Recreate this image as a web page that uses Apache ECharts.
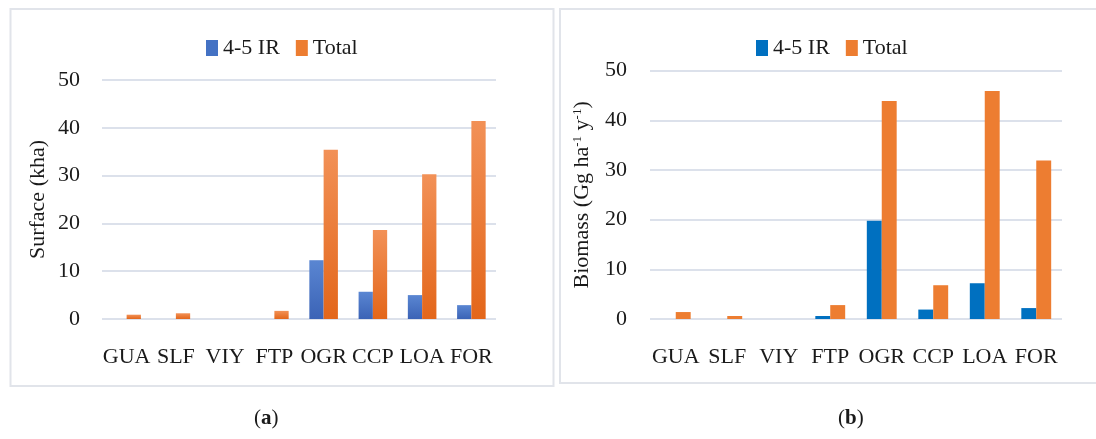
<!DOCTYPE html>
<html>
<head>
<meta charset="utf-8">
<script src="https://cdn.jsdelivr.net/npm/echarts@6/dist/echarts.min.js"></script>
<style>
  html, body { margin: 0; padding: 0; background: #ffffff; }
  #chart { width: 1096px; height: 439px; }
</style>
</head>
<body>
<div id="chart"></div>
<script>
// Land-use classes on the horizontal axis of both panels
const categories = ['GUA', 'SLF', 'VIY', 'FTP', 'OGR', 'CCP', 'LOA', 'FOR'];
const seriesNames = ['4-5 IR', 'Total'];

// Panel (a): surface, kha
const surfaceIR = [0, 0, 0, 0, 12.3, 5.7, 5.0, 2.9];
const surfaceTotal = [0.9, 1.2, 0, 1.7, 35.4, 18.6, 30.3, 41.4];

// Panel (b): biomass, Gg ha-1 y-1
const biomassIR = [0, 0, 0, 0.6, 19.8, 1.9, 7.2, 2.2];
const biomassTotal = [1.4, 0.6, 0, 2.8, 43.9, 6.8, 45.9, 31.9];

// Shared value-axis range
const yMin = 0, yMax = 50, yStep = 10;

const FONT = '"Liberation Serif", "DejaVu Serif", serif';
const INK = '#1a1a1a';
const GRID_LINE = '#DCE1EB';

function vgrad(top, bottom) {
  return { type: 'linear', x: 0, y: 0, x2: 0, y2: 1,
    colorStops: [{ offset: 0, color: top }, { offset: 1, color: bottom }] };
}

const leftBlue = vgrad('#5A86D2', '#3B63B6');
const leftOrange = vgrad('#F29157', '#E3661A');
const rightBlue = '#0070C0';
const rightOrange = '#ED7D31';

function xAxisFor(gridIndex) {
  return {
    type: 'category', gridIndex, data: categories,
    axisLine: { show: false }, axisTick: { show: false },
    axisLabel: { fontFamily: FONT, fontSize: 22, color: INK, margin: 27, interval: 0 }
  };
}

function yAxisFor(gridIndex, name, nameGap, labelMargin) {
  return {
    type: 'value', gridIndex, min: yMin, max: yMax, interval: yStep,
    name, nameLocation: 'middle', nameRotate: 90, nameGap,
    nameTextStyle: {
      fontFamily: FONT, fontSize: 22, color: INK,
      rich: {
        t: { fontFamily: FONT, fontSize: 22, color: INK },
        s: { fontFamily: FONT, fontSize: 13, color: INK, verticalAlign: 'top', padding: [0, 0, 10, 0] }
      }
    },
    axisLine: { show: false }, axisTick: { show: false },
    axisLabel: { fontFamily: FONT, fontSize: 22, color: INK, margin: labelMargin },
    splitLine: { lineStyle: { color: GRID_LINE, width: 2 } }
  };
}

function barSeries(name, data, idx, color) {
  return {
    type: 'bar', name, data, xAxisIndex: idx, yAxisIndex: idx,
    barGap: '0%', barCategoryGap: '42%',
    itemStyle: { color }, emphasis: { disabled: true }, animation: false
  };
}

function legendFor(left, colors) {
  return {
    left, top: 37, padding: 0, itemWidth: 12, itemHeight: 16, itemGap: 16,
    icon: 'rect', selectedMode: false,
    textStyle: { fontFamily: FONT, fontSize: 22, color: INK },
    data: seriesNames.map((n, i) => ({ name: n, itemStyle: { color: colors[i] } }))
  };
}

const chart = echarts.init(document.getElementById('chart'), null, { renderer: 'canvas' });

chart.setOption({
  backgroundColor: '#ffffff',
  animation: false,
  textStyle: { fontFamily: FONT },
  graphic: [
    { type: 'rect', shape: { x: 10.5, y: 9, width: 543, height: 377 },
      style: { fill: 'none', stroke: '#E1E4EA', lineWidth: 2 }, silent: true },
    { type: 'rect', shape: { x: 560, y: 9, width: 560, height: 374 },
      style: { fill: 'none', stroke: '#E1E4EA', lineWidth: 2 }, silent: true },
    { type: 'text', left: 254, top: 408,
      style: { text: '{p|(}{b|a}{p|)}', rich: {
        p: { fontFamily: FONT, fontSize: 21, fill: INK },
        b: { fontFamily: FONT, fontSize: 21, fontWeight: 'bold', fill: INK } } } },
    { type: 'text', left: 838, top: 408,
      style: { text: '{p|(}{b|b}{p|)}', rich: {
        p: { fontFamily: FONT, fontSize: 21, fill: INK },
        b: { fontFamily: FONT, fontSize: 21, fontWeight: 'bold', fill: INK } } } }
  ],
  legend: [
    legendFor(206, ['#4472C4', '#ED7D31']),
    legendFor(756, [rightBlue, rightOrange])
  ],
  grid: [
    { left: 102, top: 80, width: 394, height: 239 },
    { left: 650, top: 70.7, width: 412, height: 248.3 }
  ],
  xAxis: [xAxisFor(0), xAxisFor(1)],
  yAxis: [
    yAxisFor(0, 'Surface (kha)', 53, 22),
    yAxisFor(1, '{t|Biomass (Gg ha}{s|-1}{t| y}{s|-1}{t|)}', 56, 23)
  ],
  series: [
    barSeries(seriesNames[0], surfaceIR, 0, leftBlue),
    barSeries(seriesNames[1], surfaceTotal, 0, leftOrange),
    barSeries(seriesNames[0], biomassIR, 1, rightBlue),
    barSeries(seriesNames[1], biomassTotal, 1, rightOrange)
  ]
});
</script>
</body>
</html>
